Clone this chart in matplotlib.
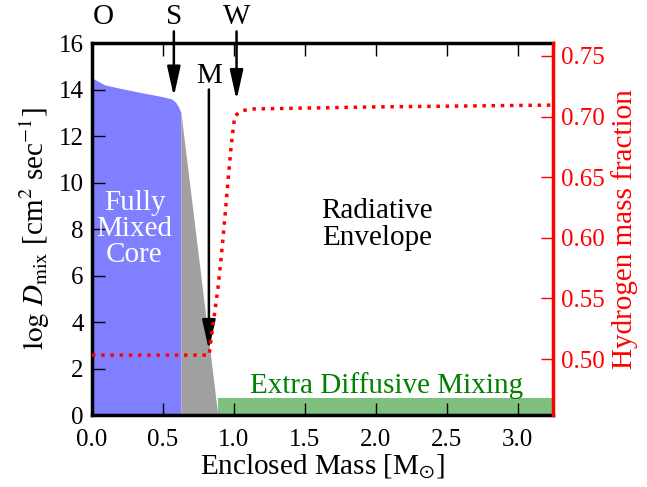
"""Mixing profile sketch: D_mix and hydrogen fraction vs enclosed mass."""

import matplotlib

matplotlib.use("Agg")
import matplotlib.pyplot as plt

plt.rcParams["font.family"] = ["Liberation Serif", "DejaVu Serif"]
plt.rcParams["mathtext.fontset"] = "stix"

# convective core (log D_mix)
core_mass = [0.0, 0.09, 0.2, 0.32, 0.49, 0.56, 0.59, 0.61, 0.627]
core_logd = [14.5, 14.2, 14.05, 13.9, 13.7, 13.6, 13.45, 13.25, 13.0]

# overshoot region
over_mass = [0.627, 0.887]
over_logd = [13.0, 0.0]

# envelope extra mixing
env_mass = [0.887, 3.25]
env_logd = [0.75, 0.75]

# hydrogen mass fraction
h_mass = [0.0, 0.826, 0.831, 0.889, 0.918, 0.944, 0.960, 0.977, 0.991,
          1.007, 1.061, 1.125, 2.0, 3.25]
h_frac = [0.5033, 0.5033, 0.5088, 0.5595, 0.5924, 0.6267, 0.6487, 0.6706,
          0.6858, 0.7008, 0.7049, 0.7063, 0.708, 0.7095]

# arrow markers: (label, mass, arrow tip)
markers = [("S", 0.577, 13.7), ("W", 1.019, 13.55)]
m_mass = 0.824
m_tip = 2.8

TICK_FS = 18
TEXT_FS = 21


def main():
    fig = plt.figure(figsize=(6.47, 4.87), dpi=100)
    ax = fig.add_axes([0.1422, 0.1478, 0.7125, 0.7639])

    ax.fill_between(core_mass, core_logd, 0, color="#7f7fff", lw=0)
    ax.fill_between(over_mass, over_logd, 0, color="#a0a0a0", lw=0)
    ax.fill_between(env_mass, env_logd, 0, color="#7fbf7f", lw=0)

    ax.set_xlim(0, 3.25)
    ax.set_ylim(0, 16)
    ax.set_xticks([0, 0.5, 1.0, 1.5, 2.0, 2.5, 3.0])
    ax.set_yticks(range(0, 17, 2))
    ax.tick_params(direction="in", length=9, width=1.0, labelsize=TICK_FS,
                   top=True, right=False, pad=6)
    ax.tick_params(axis="x", pad=10)
    ax.set_xlabel(r"Enclosed Mass [M$_{\odot}$]", fontsize=TEXT_FS,
                  labelpad=1)
    ax.set_ylabel(r"$\log\,D_{\rm mix}$ [cm$^2$ sec$^{-1}$]",
                  fontsize=TEXT_FS, labelpad=5)
    for side in ["left", "bottom", "top"]:
        ax.spines[side].set_linewidth(2.5)
    ax.spines["right"].set_visible(False)

    ax.text(0.30, 8.0, "Fully\nMixed\nCore", color="white", fontsize=TEXT_FS,
            ha="center", va="center", linespacing=1.0)
    ax.text(2.01, 8.2, "Radiative\nEnvelope", color="black",
            fontsize=TEXT_FS, ha="center", va="center", linespacing=1.05)
    ax.text(2.08, 0.95, "Extra Diffusive Mixing", color="green",
            fontsize=TEXT_FS, ha="center", va="baseline")

    arrow = dict(arrowstyle="-|>,head_length=0.9,head_width=0.2",
                 mutation_scale=20, lw=1.8, color="k", shrinkA=0, shrinkB=0)
    ax.text(0.08, 17.1, "O", fontsize=TEXT_FS, ha="center", va="center",
            clip_on=False)
    for label, mass, tip in markers:
        ax.text(mass, 17.1, label, fontsize=TEXT_FS, ha="center",
                va="center", clip_on=False)
        ax.annotate("", xy=(mass, tip), xytext=(mass, 16.5),
                    arrowprops=arrow, annotation_clip=False)
    ax.text(m_mass, 14.6, "M", fontsize=TEXT_FS, ha="center", va="center")
    ax.annotate("", xy=(m_mass, m_tip), xytext=(m_mass, 14.0),
                arrowprops=arrow)

    ax2 = ax.twinx()
    ax2.plot(h_mass, h_frac, color="red", ls=":", lw=2.5)
    ax2.set_ylim(0.4539, 0.7607)
    ax2.set_yticks([0.50, 0.55, 0.60, 0.65, 0.70, 0.75])
    ax2.set_yticklabels(["0.50", "0.55", "0.60", "0.65", "0.70", "0.75"])
    ax2.tick_params(direction="in", length=9, width=1.0, labelsize=TICK_FS,
                    colors="red", pad=6)
    ax2.set_ylabel("Hydrogen mass fraction", color="red", fontsize=TEXT_FS,
                   labelpad=4)
    ax2.spines["right"].set_color("red")
    ax2.spines["right"].set_linewidth(2.5)
    for side in ["left", "bottom", "top"]:
        ax2.spines[side].set_visible(False)

    fig.savefig("out.png", dpi=100)


if __name__ == "__main__":
    main()
